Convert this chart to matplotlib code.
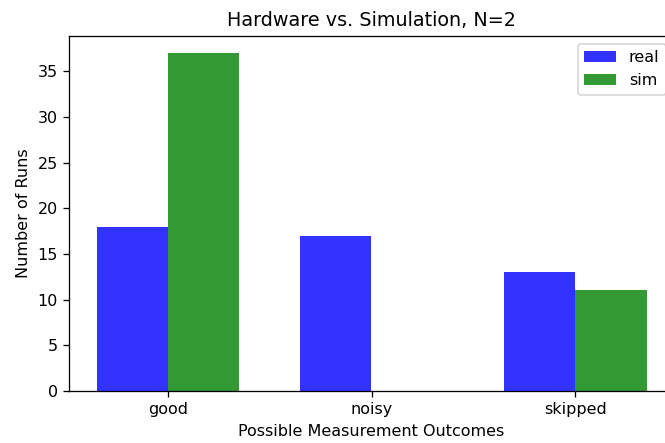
import matplotlib
matplotlib.use("Agg")
import matplotlib.pyplot as plt
import numpy as np

categories = ["good", "noisy", "skipped"]
real_values = [18, 17, 13]
sim_values = [37, 0, 11]

W, H = 665, 443
DPI = 115
fig = plt.figure(figsize=(W/DPI, H/DPI), dpi=DPI)
left, right, top, bottom = 69, 674, 36, 391
ax = fig.add_axes([left/W, 1-bottom/H, (right-left)/W, (bottom-top)/H])
index = np.arange(len(categories))
w = 0.35
ax.bar(index, real_values, w, color="blue", alpha=0.8, label="real")
ax.bar(index + w, sim_values, w, color="green", alpha=0.8, label="sim")
ax.set_xticks(index + w/2)
ax.set_xticklabels(categories)
ax.set_xlabel("Possible Measurement Outcomes")
ax.set_ylabel("Number of Runs")
ax.set_title("Hardware vs. Simulation, N=2")
ax.legend()
fig.savefig("out.png", dpi=DPI)
